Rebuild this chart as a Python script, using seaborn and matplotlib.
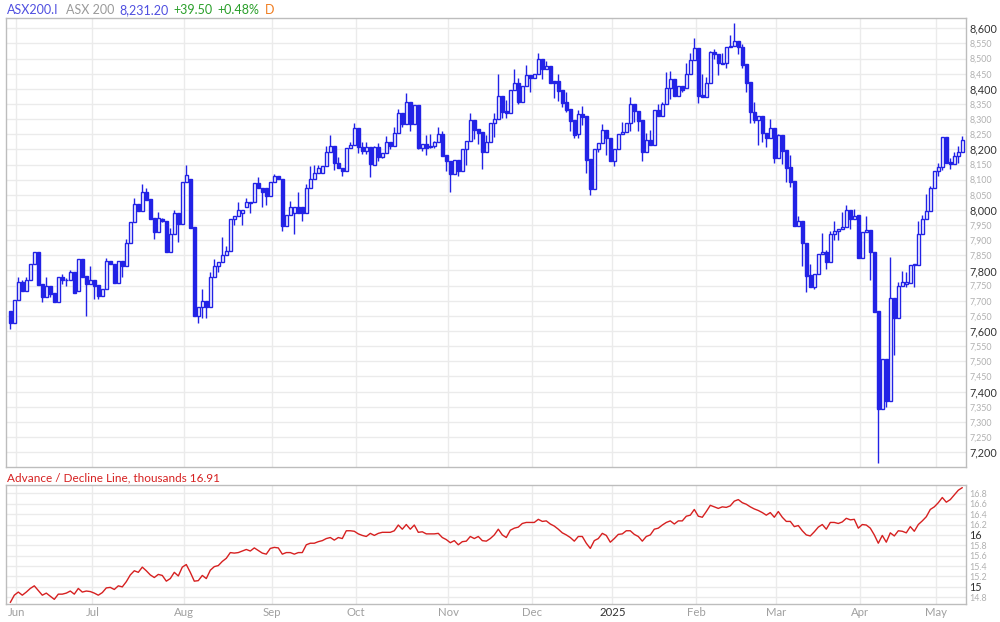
import numpy as np
import pandas as pd
import matplotlib
matplotlib.use("Agg")
import matplotlib.pyplot as plt
import seaborn as sns
from matplotlib.ticker import MultipleLocator, FixedLocator, FuncFormatter

# ---------------- data ----------------
holidays = ['2024-06-10', '2024-12-25', '2024-12-26', '2025-01-01',
            '2025-01-27', '2025-04-18', '2025-04-21', '2025-04-25']
dates = pd.bdate_range('2024-05-30', '2025-05-09', freq='C', holidays=holidays)

opens = [7666,7626,7703,7761,7733,7769,7820,7860,7756,7714,7749,7725,7697,7780,7768,7767,7796,7733,7838,7782,
         7756,7769,7752,7717,7739,7832,7820,7758,7832,7816,7890,7959,8020,7998,8058,8036,7972,7928,7970,7963,
         7860,7920,7989,7953,8091,8101,7943,7650,7679,7700,7681,7778,7815,7827,7851,7865,7970,7980,7990,8011,
         8025,8025,8088,8072,8072,8046,8091,8112,8102,7948,7983,7990,8011,8011,7990,8074,8101,8121,8121,8145,
         8193,8211,8154,8140,8127,8203,8215,8270,8209,8196,8207,8148,8207,8176,8187,8223,8212,8253,8319,8284,
         8355,8284,8346,8206,8218,8212,8211,8223,8251,8182,8162,8118,8165,8130,8200,8228,8297,8267,8256,8192,
         8223,8286,8300,8376,8327,8321,8396,8418,8358,8409,8446,8437,8448,8499,8464,8475,8426,8426,8396,8355,
         8332,8297,8250,8317,8310,8168,8068,8200,8220,8264,8237,8160,8200,8251,8257,8286,8349,8328,8297,8193,
         8231,8215,8330,8310,8349,8404,8431,8377,8409,8402,8448,8495,8534,8380,8374,8418,8521,8514,8484,8484,
         8537,8541,8558,8537,8482,8422,8322,8297,8310,8253,8239,8270,8173,8248,8198,8143,8095,7947,7963,7892,
         7785,7747,7787,7854,7862,7827,7921,7930,7937,7943,8000,7969,7983,7842,7926,7934,7860,7666,7342,7508,
         7370,7708,7644,7749,7757,7758,7818,7818,7920,7969,7997,8072,8129,8143,8240,8159,8151,8178,8190]
highs = [7666,7703,7779,7770,7779,7820,7860,7860,7756,7779,7749,7725,7780,7787,7776,7800,7796,7838,7838,7782,
         7816,7769,7752,7739,7840,7832,7820,7832,7832,7904,7959,8039,8020,8085,8074,8036,7972,7992,7972,7963,
         7940,8000,7989,8091,8150,8101,7943,7679,7738,7700,7796,7838,7829,7910,7880,7970,7980,8027,8000,8038,
         8025,8088,8110,8072,8072,8091,8118,8112,8102,7983,8030,8011,8058,8011,8085,8146,8150,8150,8145,8211,
         8248,8211,8176,8140,8204,8226,8288,8270,8223,8223,8207,8211,8222,8187,8244,8223,8275,8333,8319,8385,
         8355,8346,8346,8218,8248,8250,8229,8275,8261,8182,8162,8165,8165,8200,8228,8321,8297,8267,8256,8248,
         8286,8321,8449,8376,8363,8396,8466,8437,8409,8479,8446,8448,8520,8499,8493,8475,8426,8448,8396,8388,
         8332,8297,8330,8344,8310,8168,8200,8220,8284,8264,8237,8200,8251,8292,8286,8372,8349,8328,8297,8255,
         8264,8330,8350,8355,8455,8459,8431,8409,8409,8484,8520,8567,8534,8448,8440,8525,8530,8514,8517,8537,
         8578,8616,8558,8548,8482,8422,8358,8310,8310,8253,8300,8270,8250,8248,8198,8181,8095,7980,7963,7892,
         7820,7787,7854,7925,7867,7930,7963,7937,7994,8016,8000,8002,7983,7926,7980,7934,7860,7666,7508,7508,
         7846,7708,7763,7798,7795,7818,7820,7964,7983,8053,8079,8129,8154,8240,8240,8170,8190,8211,8244]
lows =  [7606,7626,7703,7733,7733,7769,7820,7752,7697,7714,7714,7697,7697,7754,7750,7767,7727,7733,7780,7650,
         7756,7706,7706,7717,7739,7820,7758,7758,7780,7816,7890,7959,7998,7998,8033,7970,7903,7928,7960,7860,
         7860,7920,7893,7953,8091,7942,7650,7626,7642,7642,7681,7778,7796,7827,7851,7865,7950,7980,7950,8011,
         7990,8025,8072,8010,8016,8046,8091,8102,7930,7948,7983,7920,7990,7962,7990,8074,8101,8121,8121,8145,
         8193,8132,8137,8112,8127,8203,8215,8187,8185,8185,8108,8148,8163,8170,8187,8200,8212,8253,8275,8284,
         8262,8284,8200,8196,8182,8205,8204,8223,8179,8130,8060,8118,8113,8130,8150,8228,8233,8217,8135,8192,
         8223,8242,8300,8305,8305,8321,8396,8349,8358,8409,8391,8437,8448,8431,8464,8420,8371,8361,8341,8325,
         8262,8237,8237,8281,8123,8049,8068,8193,8220,8182,8160,8146,8200,8251,8257,8262,8292,8262,8160,8193,
         8215,8215,8310,8310,8349,8366,8377,8377,8389,8402,8448,8495,8354,8374,8374,8418,8500,8446,8481,8470,
         8537,8541,8514,8470,8391,8288,8288,8215,8226,8209,8239,8154,8173,8151,8093,8075,7947,7947,7816,7730,
         7745,7738,7787,7854,7805,7827,7901,7900,7937,7943,7937,7969,7842,7842,7926,7767,7662,7165,7342,7348,
         7370,7521,7644,7749,7747,7758,7745,7818,7920,7969,7997,8072,8112,8132,8156,8134,8151,8154,8190]
closes = [7626,7703,7761,7733,7769,7820,7860,7752,7714,7749,7723,7697,7780,7767,7770,7796,7727,7838,7780,7756,
          7768,7750,7717,7739,7832,7820,7758,7832,7816,7890,7959,8020,7998,8058,8033,7970,7928,7972,7962,7860,
          7920,7989,7953,8091,8116,7942,7650,7679,7700,7681,7778,7815,7827,7851,7865,7970,7980,8000,8000,8025,
          8022,8088,8072,8060,8046,8091,8112,8102,7948,7983,8011,8011,7990,7990,8074,8101,8121,8140,8145,8193,
          8211,8154,8137,8127,8204,8215,8270,8209,8196,8207,8151,8207,8176,8187,8223,8212,8253,8319,8284,8355,
          8284,8346,8206,8218,8206,8207,8223,8251,8179,8160,8118,8165,8130,8200,8228,8297,8264,8255,8192,8223,
          8286,8300,8376,8325,8321,8396,8418,8355,8409,8446,8437,8448,8499,8464,8475,8420,8420,8394,8354,8330,
          8295,8248,8317,8308,8165,8068,8200,8220,8264,8237,8160,8200,8251,8257,8286,8349,8328,8295,8193,8231,
          8215,8330,8310,8349,8404,8431,8377,8409,8396,8448,8495,8534,8377,8374,8418,8521,8514,8484,8481,8537,
          8541,8558,8537,8479,8420,8322,8297,8310,8253,8239,8270,8173,8248,8196,8140,8093,7947,7963,7890,7783,
          7747,7787,7854,7862,7827,7921,7930,7937,7943,8000,7969,7981,7842,7926,7934,7860,7662,7342,7508,7370,
          7708,7644,7749,7761,7761,7818,7820,7920,7969,7997,8072,8129,8143,8240,8156,8151,8178,8190,8231]

adv_decl = [14.70,14.84,14.90,14.84,14.90,14.97,15.02,14.93,14.84,14.88,14.82,14.76,14.86,14.86,14.88,14.92,14.86,14.97,14.90,14.92,
            14.91,14.88,14.84,14.89,14.98,14.99,14.95,15.02,15.00,15.10,15.23,15.31,15.28,15.38,15.31,15.23,15.18,15.24,15.22,15.11,
            15.16,15.28,15.21,15.38,15.43,15.28,15.11,15.12,15.22,15.16,15.32,15.39,15.41,15.49,15.55,15.66,15.65,15.66,15.69,15.72,
            15.69,15.75,15.70,15.65,15.63,15.74,15.76,15.75,15.63,15.66,15.66,15.63,15.66,15.66,15.81,15.84,15.84,15.87,15.89,15.93,
            15.95,15.90,15.95,15.93,16.08,16.08,16.07,16.02,15.99,15.97,16.03,15.99,16.03,16.05,16.05,16.05,16.08,16.19,16.11,16.20,
            16.11,16.19,16.05,16.06,16.02,16.02,16.02,16.03,15.95,15.91,15.85,15.89,15.81,15.87,15.88,15.97,15.93,15.97,15.89,15.88,
            15.93,16.00,16.11,16.00,15.95,16.09,16.13,16.15,16.22,16.24,16.24,16.24,16.30,16.26,16.27,16.21,16.17,16.11,16.04,16.00,
            15.95,15.88,15.97,15.97,15.84,15.74,15.89,15.93,16.03,15.99,15.86,15.93,16.01,16.02,16.08,16.08,16.01,15.97,15.88,15.97,
            16.00,16.11,16.13,16.19,16.24,16.27,16.21,16.27,16.27,16.36,16.38,16.49,16.36,16.34,16.45,16.57,16.54,16.51,16.54,16.53,
            16.56,16.65,16.68,16.62,16.59,16.54,16.50,16.47,16.43,16.38,16.43,16.34,16.45,16.34,16.26,16.26,16.16,16.18,16.08,16.00,
            15.98,16.06,16.15,16.20,16.11,16.24,16.24,16.22,16.25,16.32,16.29,16.30,16.13,16.20,16.19,16.13,16.00,15.84,15.99,15.86,
            16.04,15.98,16.08,16.07,16.04,16.16,16.07,16.20,16.27,16.35,16.49,16.54,16.62,16.72,16.63,16.68,16.77,16.86,16.91]

# ---------------- style ----------------
BLUE = '#2222e6'
RED = '#d62020'
GRID = '#ebebeb'
SPINE = '#bdbdbd'

sns.set_theme(style="white")
plt.rcParams['font.family'] = ['Lato', 'DejaVu Sans']

n = len(closes)
dates = dates[:n]
x = np.arange(n)
o = np.array(opens, float)
h = np.array(highs, float)
l = np.array(lows, float)
c = np.array(closes, float)

# month boundaries
months = dates.to_period('M')
month_pos, month_lab = [], []
for i in range(1, n):
    if months[i] != months[i - 1]:
        month_pos.append(i - 0.5)
        d = dates[i]
        month_lab.append(str(d.year) if d.month == 1 else d.strftime('%b'))

fig = plt.figure(figsize=(10, 6.22), dpi=100)
ax = fig.add_axes([0.0057, 0.2492, 0.96, 0.7214])
ax2 = fig.add_axes([0.0057, 0.0289, 0.96, 0.1913])

xlim = (-1.15, n - 1 + 0.85)

# ---- main candlestick panel ----
up = c >= o
ax.vlines(x, l, h, color=BLUE, lw=1, zorder=2)
body_bottom = np.minimum(o, c)
body_h = np.maximum(np.abs(c - o), 1.5)
ax.bar(x, body_h, bottom=body_bottom, width=0.62,
       color=np.where(up, 'white', BLUE), edgecolor=BLUE, linewidth=1, zorder=3)

ax.set_xlim(*xlim)
ax.set_ylim(7151, 8633)
ax.yaxis.tick_right()
ax.yaxis.set_major_locator(MultipleLocator(200))
ax.yaxis.set_minor_locator(MultipleLocator(50))
fmt = FuncFormatter(lambda v, p: f"{v:,.0f}")
ax.yaxis.set_major_formatter(fmt)
ax.yaxis.set_minor_formatter(fmt)
ax.tick_params(axis='y', which='major', labelsize=7.8, labelcolor='#333333', length=0, pad=2.5)
ax.tick_params(axis='y', which='minor', labelsize=6.4, labelcolor='#b0b0b0', length=0, pad=2.5)
ax.xaxis.set_major_locator(FixedLocator(month_pos))
ax.tick_params(axis='x', labelbottom=False, length=0)
ax.grid(True, which='both', axis='y', color=GRID, lw=1, zorder=0)
ax.grid(True, which='major', axis='x', color=GRID, lw=1, zorder=0)
ax.set_axisbelow(True)
for s in ax.spines.values():
    s.set_visible(True)
    s.set_color(SPINE)
    s.set_linewidth(1)

# ---- advance / decline panel ----
sns.lineplot(x=x, y=adv_decl, ax=ax2, color=RED, linewidth=1.0)
ax2.set_xlim(*xlim)
ax2.set_ylim(14.67, 16.96)
ax2.yaxis.tick_right()
ax2.yaxis.set_major_locator(FixedLocator([15, 16]))
ax2.yaxis.set_minor_locator(MultipleLocator(0.2))
ax2.yaxis.set_major_formatter(FuncFormatter(lambda v, p: f"{v:g}"))
ax2.yaxis.set_minor_formatter(FuncFormatter(lambda v, p: f"{v:.1f}"))
ax2.tick_params(axis='y', which='major', labelsize=7.8, labelcolor='#333333', length=0, pad=2.5)
ax2.tick_params(axis='y', which='minor', labelsize=6.4, labelcolor='#b0b0b0', length=0, pad=2.5)
ax2.set_xticks(month_pos, month_lab)
ax2.tick_params(axis='x', labelsize=8.2, labelcolor='#a0a0a0', length=0, pad=2)
for t in ax2.get_xticklabels():
    if t.get_text() == '2025':
        t.set_color('#333333')
ax2.grid(True, which='both', axis='y', color=GRID, lw=1, zorder=0)
ax2.grid(True, which='major', axis='x', color=GRID, lw=1, zorder=0)
ax2.set_axisbelow(True)
ax2.set_xlabel('')
ax2.set_ylabel('')
for s in ax2.spines.values():
    s.set_visible(True)
    s.set_color(SPINE)
    s.set_linewidth(1)

# ---- header texts ----
W, H = 1000, 622
def ftext(px, py, s, color, size=9.0):
    fig.text(px / W, 1 - py / H, s, color=color, fontsize=size, va='center', ha='left')

ftext(7, 10, 'ASX200.I', '#4f4fe0')
ftext(66, 10, 'ASX 200', '#9a9a9a')
ftext(119, 10, '8,231.20', '#4f4fe0')
ftext(173, 10, '+39.50', '#2a9f2a')
ftext(217, 10, '+0.48%', '#2a9f2a')
ftext(265, 10, 'D', '#f07d20')
ftext(7, 478, 'Advance / Decline Line, thousands 16.91', RED, size=8.5)

fig.savefig('out.png', dpi=100)
